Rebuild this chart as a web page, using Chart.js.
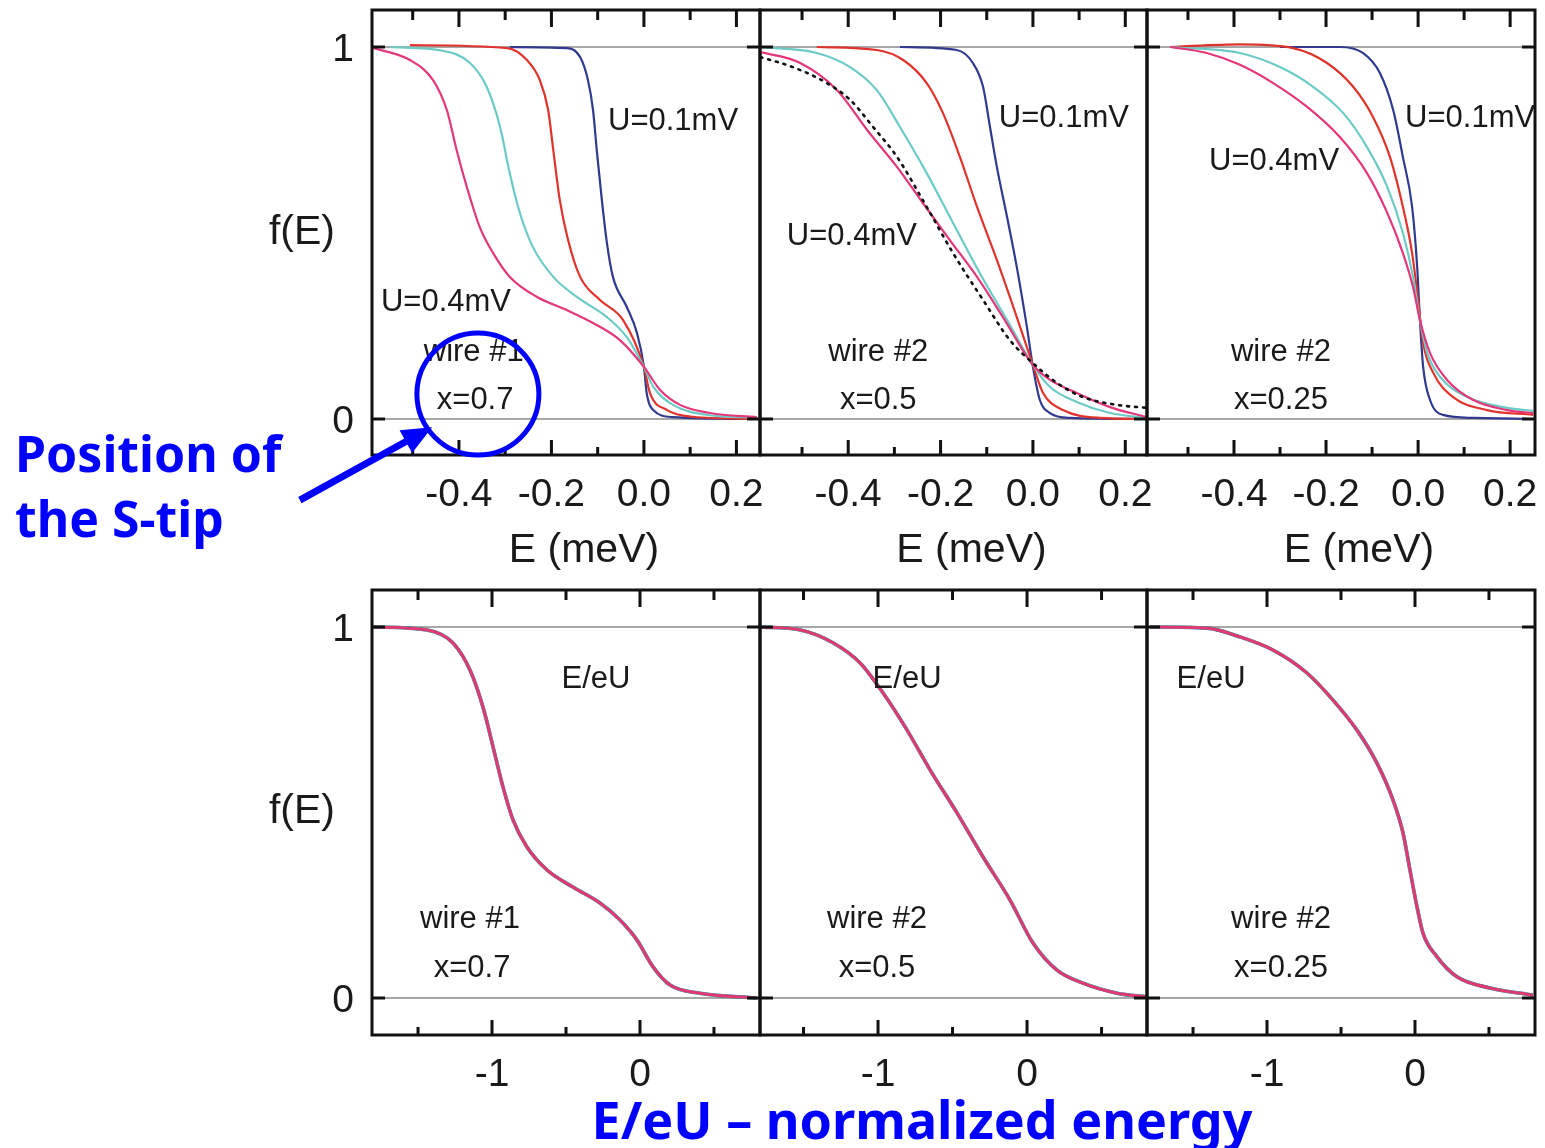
<!DOCTYPE html>
<html>
<head>
<meta charset="utf-8">
<script src="https://cdn.jsdelivr.net/npm/chart.js@4.4.0/dist/chart.umd.min.js"></script>
<style>
  body { margin: 0; background: #fff; }
  #wrap { position: relative; width: 1545px; height: 1148px; overflow: hidden; }
  #wrap canvas { position: absolute; left: 0; top: 0; }
</style>
</head>
<body>
<div id="wrap">
  <canvas id="t1" width="1545" height="1148"></canvas>
  <canvas id="t2" width="1545" height="1148"></canvas>
  <canvas id="t3" width="1545" height="1148"></canvas>
  <canvas id="b1" width="1545" height="1148"></canvas>
  <canvas id="b2" width="1545" height="1148"></canvas>
  <canvas id="b3" width="1545" height="1148"></canvas>
</div>
<script>
// ---- data: [E, f(E)] ----
// top row, wire #1, x=0.7  (E in meV)
const t1Blue = [[-0.29,1.0],[-0.167,0.997],[-0.138,0.973],[-0.121,0.911],[-0.11,0.83],[-0.102,0.723],[-0.091,0.589],[-0.08,0.473],[-0.067,0.382],[-0.037,0.301],[-0.015,0.231],[0,0.14],[0.006,0.07],[0.02,0.024],[0.063,0.005],[0.244,0.0]];
const t1Red  = [[-0.506,1.005],[-0.296,0.997],[-0.253,0.965],[-0.225,0.911],[-0.207,0.83],[-0.196,0.723],[-0.182,0.589],[-0.164,0.481],[-0.138,0.382],[-0.095,0.32],[-0.045,0.266],[0,0.14],[0.013,0.07],[0.05,0.024],[0.106,0.006],[0.244,0.0]];
const t1Cyan = [[-0.549,1.0],[-0.435,0.99],[-0.376,0.957],[-0.34,0.893],[-0.311,0.785],[-0.29,0.66],[-0.268,0.553],[-0.24,0.462],[-0.196,0.382],[-0.145,0.328],[-0.08,0.274],[-0.037,0.22],[0,0.14],[0.02,0.087],[0.063,0.038],[0.143,0.01],[0.244,0.004]];
const t1Pink = [[-0.587,0.998],[-0.506,0.965],[-0.456,0.911],[-0.426,0.83],[-0.405,0.723],[-0.383,0.624],[-0.355,0.516],[-0.326,0.446],[-0.29,0.382],[-0.231,0.328],[-0.167,0.293],[-0.11,0.258],[-0.052,0.212],[0,0.14],[0.035,0.078],[0.078,0.038],[0.143,0.016],[0.244,0.005]];

// top row, wire #2, x=0.5
const t2Blue = [[-0.288,1.0],[-0.165,0.992],[-0.13,0.957],[-0.108,0.893],[-0.093,0.785],[-0.078,0.677],[-0.056,0.543],[-0.035,0.409],[-0.013,0.247],[0,0.14],[0.015,0.051],[0.037,0.016],[0.08,0.003],[0.247,0.0]];
const t2Red  = [[-0.468,1.0],[-0.338,0.992],[-0.281,0.965],[-0.23,0.903],[-0.195,0.823],[-0.158,0.704],[-0.121,0.57],[-0.078,0.427],[-0.035,0.274],[0,0.145],[0.022,0.07],[0.065,0.024],[0.145,0.003],[0.247,0.0]];
const t2Cyan = [[-0.591,1.0],[-0.468,0.984],[-0.396,0.946],[-0.338,0.884],[-0.288,0.785],[-0.23,0.661],[-0.173,0.527],[-0.115,0.392],[-0.056,0.266],[0,0.145],[0.037,0.086],[0.095,0.046],[0.167,0.016],[0.247,0.003]];
const t2Pink = [[-0.591,0.987],[-0.504,0.957],[-0.424,0.884],[-0.359,0.777],[-0.294,0.677],[-0.238,0.58],[-0.18,0.481],[-0.121,0.382],[-0.065,0.274],[0,0.145],[0.037,0.105],[0.095,0.07],[0.167,0.032],[0.247,0.005]];
const t2Dots = [[-0.59,0.973],[-0.52,0.946],[-0.446,0.903],[-0.396,0.858],[-0.346,0.785],[-0.294,0.704],[-0.23,0.57],[-0.173,0.446],[-0.108,0.32],[-0.05,0.212],[0,0.15],[0.052,0.097],[0.108,0.059],[0.182,0.038],[0.247,0.03]];

// top row, wire #2, x=0.25
const t3Blue = [[-0.3,1.0],[-0.17,1.0],[-0.12,0.984],[-0.083,0.93],[-0.054,0.83],[-0.033,0.704],[-0.013,0.57],[-0.002,0.409],[0.004,0.266],[0.011,0.14],[0.026,0.051],[0.054,0.011],[0.12,0.003],[0.25,0.0]];
const t3Red  = [[-0.539,1.0],[-0.387,1.007],[-0.272,0.997],[-0.198,0.957],[-0.141,0.893],[-0.098,0.812],[-0.061,0.704],[-0.033,0.57],[-0.013,0.446],[0,0.32],[0.011,0.204],[0.033,0.124],[0.076,0.059],[0.15,0.024],[0.25,0.011]];
const t3Cyan = [[-0.539,1.0],[-0.387,0.984],[-0.3,0.946],[-0.228,0.893],[-0.163,0.823],[-0.111,0.731],[-0.067,0.624],[-0.033,0.5],[-0.011,0.382],[0.004,0.266],[0.02,0.177],[0.048,0.113],[0.107,0.059],[0.193,0.03],[0.25,0.022]];
const t3Pink = [[-0.539,1.0],[-0.459,0.984],[-0.387,0.952],[-0.315,0.903],[-0.241,0.839],[-0.17,0.758],[-0.111,0.661],[-0.067,0.554],[-0.033,0.446],[-0.011,0.355],[0.004,0.266],[0.026,0.177],[0.063,0.105],[0.12,0.051],[0.193,0.024],[0.25,0.016]];

// bottom row, normalized energy E/eU (all four curves collapse)
const b1Curve = [[-1.804,1.0],[-1.44,0.992],[-1.264,0.957],[-1.149,0.884],[-1.061,0.784],[-0.993,0.677],[-0.926,0.569],[-0.858,0.48],[-0.764,0.407],[-0.628,0.345],[-0.453,0.299],[-0.27,0.256],[-0.135,0.21],[-0.02,0.156],[0.088,0.084],[0.203,0.035],[0.405,0.013],[0.79,0.0]];
const b2Curve = [[-1.79,1.0],[-1.52,0.992],[-1.30,0.957],[-1.12,0.903],[-0.966,0.822],[-0.805,0.722],[-0.651,0.615],[-0.47,0.499],[-0.295,0.38],[-0.114,0.264],[0.04,0.148],[0.201,0.075],[0.376,0.04],[0.604,0.013],[0.805,0.003]];
const b3Curve = [[-1.79,1.0],[-1.405,0.997],[-1.18,0.973],[-0.96,0.938],[-0.73,0.876],[-0.554,0.803],[-0.392,0.722],[-0.257,0.633],[-0.149,0.534],[-0.081,0.445],[-0.034,0.345],[0.014,0.245],[0.054,0.175],[0.149,0.111],[0.284,0.057],[0.507,0.027],[0.797,0.008]];

// ticks
const topMajor = [-0.4, -0.2, 0, 0.2];
const topMinor = [-0.5, -0.3, -0.1, 0.1];
const topLabels = ['-0.4', '-0.2', '0.0', '0.2'];
const botMajor = [-1, 0];
const botMinor = [-1.5, -0.5, 0.5];
const botLabels = ['-1', '0'];

// colours
const BLUE = '#2f3a90', RED = '#e0332b', CYAN = '#6ccac6', PINK = '#e3377a';
const TXT = '#1a1a1a';
const FONT = '"Liberation Sans", Arial, sans-serif';
const NOTEFONT = '"Comic Sans MS", "Noto Sans", sans-serif';

const W = 1545, H = 1148;

function pts(arr) {
  return arr.map(p => ({ x: p[0], y: p[1] }));
}

function line(arr, color, extra) {
  return Object.assign({
    data: pts(arr),
    borderColor: color,
    borderWidth: 2.2,
    pointRadius: 0,
    fill: false,
    cubicInterpolationMode: 'monotone'
  }, extra || {});
}

// frame, ticks, labels
const panelPlugin = {
  id: 'panel',
  beforeDatasetsDraw(chart) {
    const { ctx, chartArea: a } = chart;
    const y = chart.scales.y;
    ctx.save();
    ctx.strokeStyle = '#8a8a8a';
    ctx.lineWidth = 1.5;
    [0, 1].forEach(v => {
      const py = y.getPixelForValue(v);
      ctx.beginPath();
      ctx.moveTo(a.left, py);
      ctx.lineTo(a.right, py);
      ctx.stroke();
    });
    ctx.restore();
  },
  afterDatasetsDraw(chart, args, o) {
    const { ctx, chartArea: a } = chart;
    const x = chart.scales.x, y = chart.scales.y;
    ctx.save();
    ctx.strokeStyle = '#111';
    ctx.lineCap = 'butt';

    // x ticks, inward, top and bottom
    ctx.lineWidth = 3;
    o.major.forEach(v => {
      const px = x.getPixelForValue(v);
      ctx.beginPath();
      ctx.moveTo(px, a.top); ctx.lineTo(px, a.top + 17);
      ctx.moveTo(px, a.bottom); ctx.lineTo(px, a.bottom - 15);
      ctx.stroke();
    });
    o.minor.forEach(v => {
      const px = x.getPixelForValue(v);
      ctx.beginPath();
      ctx.moveTo(px, a.top); ctx.lineTo(px, a.top + 10);
      ctx.moveTo(px, a.bottom); ctx.lineTo(px, a.bottom - 8);
      ctx.stroke();
    });
    // y ticks at 0 and 1
    [0, 1].forEach(v => {
      const py = y.getPixelForValue(v);
      ctx.beginPath();
      ctx.moveTo(a.left, py); ctx.lineTo(a.left + 13, py);
      ctx.moveTo(a.right, py); ctx.lineTo(a.right - 13, py);
      ctx.stroke();
    });

    // frame
    ctx.lineWidth = 3;
    ctx.strokeRect(a.left, a.top, a.right - a.left, a.bottom - a.top);

    // tick labels
    ctx.fillStyle = TXT;
    ctx.textAlign = 'center';
    ctx.textBaseline = 'middle';
    ctx.font = '39px ' + FONT;
    o.major.forEach((v, i) => {
      ctx.fillText(o.labels[i], x.getPixelForValue(v), a.bottom + 40);
    });
    if (o.title) {
      ctx.font = '41px ' + FONT;
      ctx.fillText(o.title, (a.left + a.right) / 2 + 18, a.bottom + 96);
    }
    if (o.showY) {
      ctx.font = '39px ' + FONT;
      ctx.fillText('1', a.left - 29, y.getPixelForValue(1) + 3);
      ctx.fillText('0', a.left - 29, y.getPixelForValue(0) + 3);
      ctx.font = '41px ' + FONT;
      ctx.fillText('f(E)', a.left - 70, y.getPixelForValue(0.51) + 3);
    }

    // in-panel notes
    ctx.font = '31px ' + FONT;
    (o.notes || []).forEach(n => {
      ctx.fillText(n.text, x.getPixelForValue(n.x), y.getPixelForValue(n.y) + 2);
    });
    ctx.restore();
  }
};

// blue hand-made annotations
const tipPlugin = {
  id: 'tip',
  afterDraw(chart) {
    const { ctx } = chart;
    const x = chart.scales.x, y = chart.scales.y;
    ctx.save();
    ctx.strokeStyle = '#0000ff';
    ctx.fillStyle = '#0000ff';
    // circle around x=0.7
    ctx.lineWidth = 5;
    ctx.beginPath();
    ctx.arc(x.getPixelForValue(-0.359), y.getPixelForValue(0.067), 61, 0, Math.PI * 2);
    ctx.stroke();
    // arrow
    const x0 = x.getPixelForValue(-0.744), y0 = y.getPixelForValue(-0.218);
    const x1 = x.getPixelForValue(-0.458), y1 = y.getPixelForValue(-0.022);
    const ang = Math.atan2(y1 - y0, x1 - x0);
    ctx.lineWidth = 7;
    ctx.beginPath();
    ctx.moveTo(x0, y0);
    ctx.lineTo(x1 - 22 * Math.cos(ang), y1 - 22 * Math.sin(ang));
    ctx.stroke();
    ctx.beginPath();
    ctx.moveTo(x1, y1);
    ctx.lineTo(x1 - 30 * Math.cos(ang) + 13 * Math.sin(ang), y1 - 30 * Math.sin(ang) - 13 * Math.cos(ang));
    ctx.lineTo(x1 - 30 * Math.cos(ang) - 13 * Math.sin(ang), y1 - 30 * Math.sin(ang) + 13 * Math.cos(ang));
    ctx.closePath();
    ctx.fill();
    // text
    ctx.font = 'bold 50px ' + NOTEFONT;
    ctx.textAlign = 'left';
    ctx.textBaseline = 'alphabetic';
    ctx.fillText('Position of', 15, 472);
    ctx.fillText('the S-tip', 15, 537);
    ctx.restore();
  }
};

const axisNote = {
  id: 'axisNote',
  afterDraw(chart) {
    const { ctx } = chart;
    ctx.save();
    ctx.fillStyle = '#0000ff';
    ctx.font = 'bold 52px ' + NOTEFONT;
    ctx.textAlign = 'center';
    ctx.textBaseline = 'alphabetic';
    ctx.fillText('E/eU \u2013 normalized energy', 922, 1139);
    ctx.restore();
  }
};

function makePanel(id, frame, xr, yr, datasets, panelOpts, extraPlugins) {
  return new Chart(document.getElementById(id), {
    type: 'line',
    data: { datasets: datasets },
    options: {
      responsive: false,
      animation: false,
      events: [],
      layout: { padding: { left: frame.l, top: frame.t, right: W - frame.r, bottom: H - frame.b } },
      plugins: {
        legend: { display: false },
        tooltip: { enabled: false },
        panel: panelOpts
      },
      scales: {
        x: { type: 'linear', min: xr[0], max: xr[1], display: false },
        y: { type: 'linear', min: yr[0], max: yr[1], display: false }
      }
    },
    plugins: [panelPlugin].concat(extraPlugins || [])
  });
}

const topY = [-0.0968, 1.0995];
const botY = [-0.0997, 1.0997];

function topOpts(showY, notes) {
  return { major: topMajor, minor: topMinor, labels: topLabels, title: 'E (meV)', showY: showY, notes: notes };
}
function botOpts(showY, notes) {
  return { major: botMajor, minor: botMinor, labels: botLabels, title: null, showY: showY, notes: notes };
}

// Chart.js paints dataset 0 last (on top), so the list runs top-most first
makePanel('t1', { l: 372, r: 760, t: 10, b: 455 }, [-0.588, 0.251], topY,
  [line(t1Pink, PINK), line(t1Cyan, CYAN), line(t1Red, RED), line(t1Blue, BLUE)],
  topOpts(true, [
    { text: 'U=0.1mV', x: 0.063, y: 0.806 },
    { text: 'U=0.4mV', x: -0.428, y: 0.32 },
    { text: 'wire #1', x: -0.368, y: 0.185 },
    { text: 'x=0.7', x: -0.365, y: 0.054 }
  ]), [tipPlugin]);

makePanel('t2', { l: 760, r: 1147, t: 10, b: 455 }, [-0.591, 0.247], topY,
  [line(t2Dots, '#111', { borderWidth: 2.6, borderDash: [2, 6], borderCapStyle: 'round' }),
   line(t2Pink, PINK), line(t2Cyan, CYAN), line(t2Red, RED), line(t2Blue, BLUE)],
  topOpts(false, [
    { text: 'U=0.1mV', x: 0.067, y: 0.812 },
    { text: 'U=0.4mV', x: -0.392, y: 0.495 },
    { text: 'wire #2', x: -0.335, y: 0.185 },
    { text: 'x=0.5', x: -0.335, y: 0.054 }
  ]));

makePanel('t3', { l: 1147, r: 1535, t: 10, b: 455 }, [-0.589, 0.254], topY,
  [line(t3Pink, PINK), line(t3Cyan, CYAN), line(t3Red, RED), line(t3Blue, BLUE)],
  topOpts(false, [
    { text: 'U=0.1mV', x: 0.113, y: 0.812 },
    { text: 'U=0.4mV', x: -0.313, y: 0.699 },
    { text: 'wire #2', x: -0.298, y: 0.185 },
    { text: 'x=0.25', x: -0.298, y: 0.054 }
  ]));

function collapsed(arr) {
  return [line(arr, PINK, { borderWidth: 2.2 }), line(arr, RED, { borderWidth: 2.6 }),
          line(arr, CYAN, { borderWidth: 3.0 }), line(arr, BLUE, { borderWidth: 3.6 })];
}

makePanel('b1', { l: 372, r: 760, t: 590, b: 1035 }, [-1.811, 0.811], botY,
  collapsed(b1Curve),
  botOpts(true, [
    { text: 'E/eU', x: -0.297, y: 0.863 },
    { text: 'wire #1', x: -1.149, y: 0.218 },
    { text: 'x=0.7', x: -1.135, y: 0.086 }
  ]));

makePanel('b2', { l: 760, r: 1147, t: 590, b: 1035 }, [-1.792, 0.805], botY,
  collapsed(b2Curve),
  botOpts(false, [
    { text: 'E/eU', x: -0.805, y: 0.863 },
    { text: 'wire #2', x: -1.007, y: 0.218 },
    { text: 'x=0.5', x: -1.007, y: 0.086 }
  ]), [axisNote]);

makePanel('b3', { l: 1147, r: 1535, t: 590, b: 1035 }, [-1.811, 0.811], botY,
  collapsed(b3Curve),
  botOpts(false, [
    { text: 'E/eU', x: -1.378, y: 0.863 },
    { text: 'wire #2', x: -0.905, y: 0.218 },
    { text: 'x=0.25', x: -0.905, y: 0.086 }
  ]));
</script>
</body>
</html>
